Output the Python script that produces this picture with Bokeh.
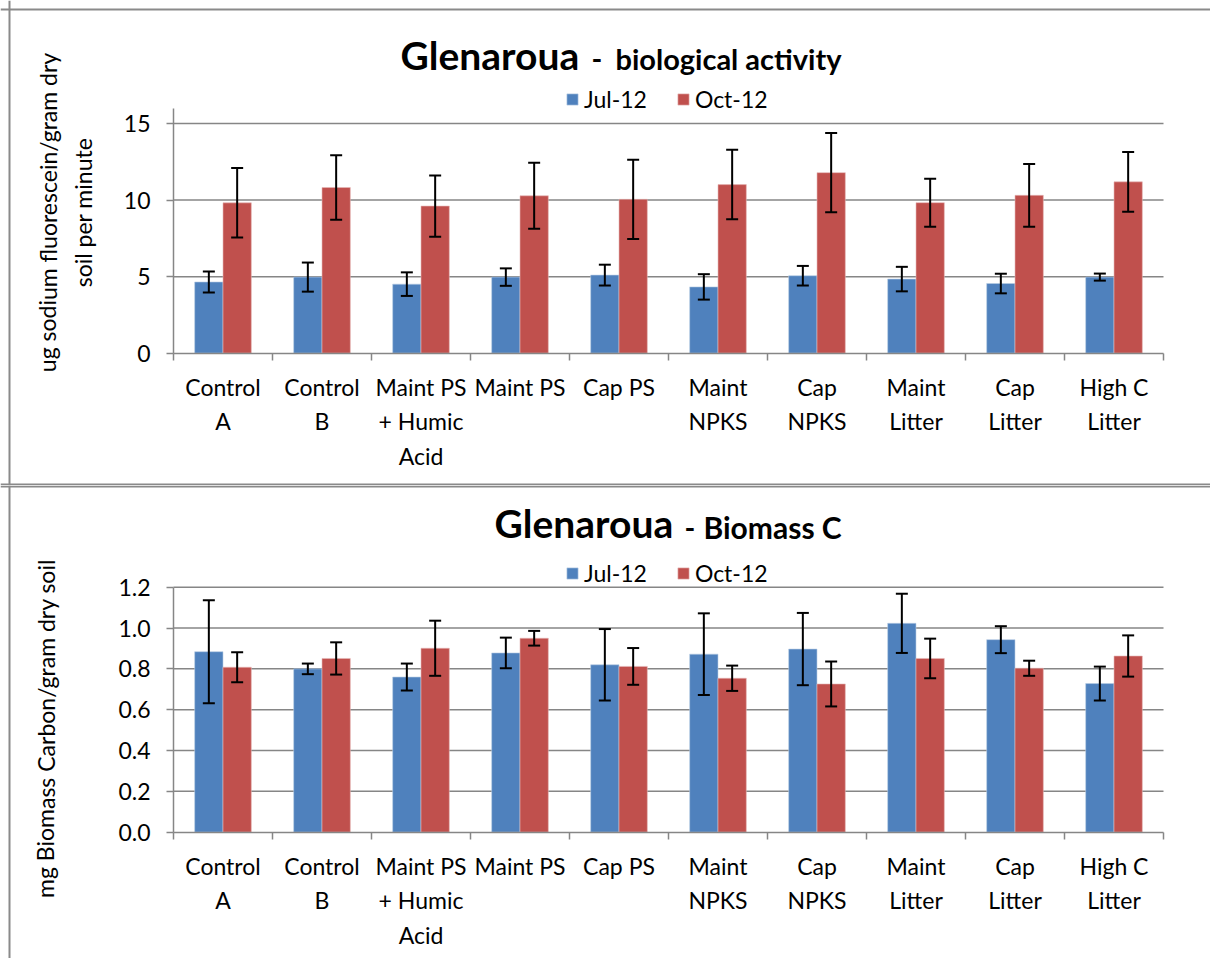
from bokeh.plotting import figure
from bokeh.models import (Range1d, LinearAxis, FixedTicker, Span,
                          NumeralTickFormatter, ColumnDataSource, Label, Legend, LegendItem)
from bokeh.transform import dodge
from bokeh.layouts import column
from bokeh.embed import file_html
from bokeh.resources import INLINE

# ---------------- data ----------------
categories = ["Control A", "Control B", "Maint PS + Humic Acid", "Maint PS", "Cap PS",
              "Maint NPKS", "Cap NPKS", "Maint Litter", "Cap Litter", "High C Litter"]
tick_labels = ["Control\nA", "Control\nB", "Maint PS\n+ Humic\nAcid", "Maint PS", "Cap PS",
               "Maint\nNPKS", "Cap\nNPKS", "Maint\nLitter", "Cap\nLitter", "High C\nLitter"]
series_names = ["Jul-12", "Oct-12"]

bio_jul = [4.65, 4.97, 4.51, 4.97, 5.10, 4.33, 5.06, 4.84, 4.55, 4.97]
bio_jul_err = [0.68, 0.95, 0.77, 0.57, 0.68, 0.83, 0.64, 0.80, 0.64, 0.23]
bio_oct = [9.82, 10.82, 9.61, 10.28, 10.05, 11.01, 11.79, 9.83, 10.31, 11.19]
bio_oct_err = [2.27, 2.10, 2.00, 2.15, 2.59, 2.27, 2.59, 1.57, 2.05, 1.95]
bio_ticks = [0, 5, 10, 15]

bmc_jul = [0.884, 0.800, 0.760, 0.878, 0.820, 0.872, 0.897, 1.023, 0.943, 0.728]
bmc_jul_err = [0.252, 0.026, 0.066, 0.075, 0.175, 0.200, 0.177, 0.145, 0.066, 0.083]
bmc_oct = [0.808, 0.851, 0.901, 0.950, 0.812, 0.754, 0.726, 0.851, 0.803, 0.863]
bmc_oct_err = [0.073, 0.079, 0.135, 0.036, 0.090, 0.062, 0.110, 0.097, 0.037, 0.101]
bmc_ticks = [0.0, 0.2, 0.4, 0.6, 0.8, 1.0, 1.2]

# ---------------- style / layout ----------------
FONT = "Lato"
BLUE = "#4F81BD"
RED = "#C0504D"
GRID = "#868686"
BOX = "#8a8a8a"
WIDTH = 1210
X0 = 173.0          # pixel of the value axis
PPX = 99.0          # pixels per category slot
BAR_W = 0.286
N = len(categories)
centers = [i + 0.5 for i in range(N)]
bounds = list(range(N + 1))
MAIN_SIZE = 39
SUB_SIZE = 29


def make_chart(H, y0px, ytop_px, ymax, yticks, yfmt, jul, jul_err, octv, oct_err,
               title_parts, title_base, legend_bottom,
               ylabel_lines, ylabel_xs, ylabel_cy, border_top_px, border_bottom_px):
    ppu = (y0px - ytop_px) / ymax
    p = figure(width=WIDTH, height=H, output_backend="svg", toolbar_location=None,
               x_range=Range1d((0 - X0) / PPX, (WIDTH - X0) / PPX),
               y_range=Range1d((y0px - H) / ppu, y0px / ppu),
               x_axis_location=None, y_axis_location=None,
               min_border=0, min_border_left=0, min_border_right=0,
               min_border_top=0, min_border_bottom=0)
    p.outline_line_color = None
    p.background_fill_color = "white"
    p.border_fill_color = "white"
    p.xgrid.visible = False
    p.ygrid.visible = False

    def sy(py):
        return H - py

    src = ColumnDataSource(dict(
        pos=centers, cat=categories,
        jul=jul, oct=octv,
        jul_lo=[v - e for v, e in zip(jul, jul_err)], jul_hi=[v + e for v, e in zip(jul, jul_err)],
        oct_lo=[v - e for v, e in zip(octv, oct_err)], oct_hi=[v + e for v, e in zip(octv, oct_err)],
    ))

    # chart box border
    p.add_layout(Span(location=(9 - X0) / PPX, dimension="height", line_color=BOX, line_width=2))
    if border_top_px is not None:
        p.add_layout(Span(location=(y0px - border_top_px) / ppu, dimension="width",
                          line_color=BOX, line_width=2))
    if border_bottom_px is not None:
        p.add_layout(Span(location=(y0px - border_bottom_px) / ppu, dimension="width",
                          line_color=BOX, line_width=2))

    # horizontal gridlines across the category span
    gt = [t for t in yticks if t != 0]
    p.segment(x0=[0] * len(gt), x1=[N] * len(gt), y0=gt, y1=gt, line_color=GRID, line_width=1.5)

    # value axis
    yax = LinearAxis(ticker=FixedTicker(ticks=yticks), fixed_location=0, bounds=(0, ymax))
    if yfmt:
        yax.formatter = NumeralTickFormatter(format=yfmt)
    yax.axis_line_color = GRID
    yax.axis_line_width = 1.5
    yax.major_tick_line_color = GRID
    yax.major_tick_line_width = 1.5
    yax.major_tick_out = 7
    yax.major_tick_in = 0
    yax.minor_tick_line_color = None
    yax.major_label_text_font = FONT
    yax.major_label_text_font_size = "23px"
    yax.major_label_text_color = "black"
    yax.major_label_standoff = 16
    p.add_layout(yax, "left")

    # category axis: labels at slot centres, tick marks (minor ticks) at slot boundaries
    cax = LinearAxis(ticker=FixedTicker(ticks=centers, minor_ticks=bounds), fixed_location=0,
                     bounds=(0, N),
                     major_label_overrides={c: t for c, t in zip(centers, tick_labels)})
    cax.axis_line_color = GRID
    cax.axis_line_width = 1.5
    cax.major_tick_line_color = None
    cax.major_tick_out = 0
    cax.major_tick_in = 0
    cax.minor_tick_line_color = GRID
    cax.minor_tick_line_width = 1.5
    cax.minor_tick_out = 7
    cax.minor_tick_in = 0
    cax.major_label_text_font = FONT
    cax.major_label_text_font_size = "23px"
    cax.major_label_text_color = "black"
    cax.major_label_text_line_height = 1.22
    cax.major_label_standoff = 13
    p.add_layout(cax, "below")

    rj = p.vbar(x=dodge("pos", -BAR_W / 2), top="jul", width=BAR_W, source=src,
                fill_color=BLUE, line_color="#b8cce4", line_width=0.6)
    ro = p.vbar(x=dodge("pos", BAR_W / 2), top="oct", width=BAR_W, source=src,
                fill_color=RED, line_color="#e6b9b8", line_width=0.6)

    for off, lo, hi in ((-BAR_W / 2, "jul_lo", "jul_hi"), (BAR_W / 2, "oct_lo", "oct_hi")):
        xs = dodge("pos", off)
        p.segment(x0=xs, y0=lo, x1=xs, y1=hi, source=src, line_color="black", line_width=2)
        p.scatter(x=xs, y=lo, source=src, marker="dash", size=12, line_color="black", line_width=2)
        p.scatter(x=xs, y=hi, source=src, marker="dash", size=12, line_color="black", line_width=2)

    legend = Legend(items=[LegendItem(label=series_names[0], renderers=[rj]),
                           LegendItem(label=series_names[1], renderers=[ro])],
                    orientation="horizontal", location=(565, sy(legend_bottom)),
                    glyph_width=14, glyph_height=14, label_standoff=5, spacing=29,
                    padding=0, margin=0, border_line_color=None, background_fill_alpha=0,
                    label_text_font=FONT, label_text_font_size="23px", label_text_color="black",
                    label_height=14, label_width=10)
    p.add_layout(legend, "center")

    # title pieces: (text, left x, font size)
    for txt, lx, size in title_parts:
        p.add_layout(Label(x=lx, y=sy(title_base - 0.39 * size), x_units="screen", y_units="screen",
                           text=txt, text_font=FONT, text_font_style="bold",
                           text_font_size=f"{size}px", text_color="black",
                           text_baseline="middle", text_align="left"))
    # value-axis title
    for txt, lx in zip(ylabel_lines, ylabel_xs):
        p.add_layout(Label(x=lx, y=sy(ylabel_cy), x_units="screen", y_units="screen", text=txt,
                           angle=1.5707963, text_font=FONT, text_font_size="23px",
                           text_color="black", text_align="center", text_baseline="middle"))
    return p


# top chart occupies page y 0..485, bottom chart page y 485..958
top = make_chart(485, 352.7, 107.7, 16, bio_ticks, None, bio_jul, bio_jul_err, bio_oct, bio_oct_err,
                 [("Glenaroua", 400, MAIN_SIZE), ("-", 591, SUB_SIZE),
                  ("biological activity", 615, SUB_SIZE)], 69.5, 113,
                 ["ug sodium fluorescein/gram dry", "soil per minute"], [47, 82], 212,
                 9, 484)
bottom = make_chart(473, 831.7 - 485, 586.7 - 485, 1.2, bmc_ticks, "0.0",
                    bmc_jul, bmc_jul_err, bmc_oct, bmc_oct_err,
                    [("Glenaroua", 494, MAIN_SIZE), ("-", 684, SUB_SIZE),
                     ("Biomass C", 703, 30)], 538 - 485, 587 - 485,
                    ["mg Biomass Carbon/gram dry soil"], [45], 728 - 485,
                    1, None)

layout = column(top, bottom, spacing=0)
open("out.html", "w").write(file_html(layout, INLINE))
